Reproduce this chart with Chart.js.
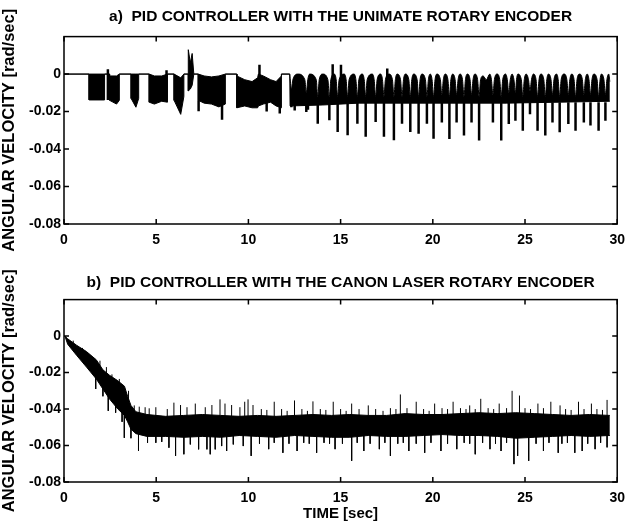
<!DOCTYPE html>
<html>
<head>
<meta charset="utf-8">
<script src="https://cdn.jsdelivr.net/npm/chart.js@4.4.0/dist/chart.umd.min.js"></script>
<style>
  html, body { margin: 0; padding: 0; background: #fff; }
  #wrap { position: relative; width: 633px; height: 524px; overflow: hidden; }
  canvas { position: absolute; left: 0; }
  #topChart { top: 0; }
  #bottomChart { top: 262px; }
</style>
</head>
<body>
<div id="wrap">
  <canvas id="topChart" width="633" height="262"></canvas>
  <canvas id="bottomChart" width="633" height="262"></canvas>
</div>
<script>
// axis ticks
const xTicks = [0, 5, 10, 15, 20, 25, 30];
const yTicks = [-0.08, -0.06, -0.04, -0.02, 0];

// a) Unimate encoder: chattering band up to ~12 s (time, upper edge, lower edge)
const topEarlyTime = [0, 1.36, 1.36, 2.2, 2.2, 2.47, 2.47, 2.85, 3.0, 3.0, 3.64, 3.64, 3.9, 4.05, 4.05, 4.62, 4.62, 4.9, 5.3, 5.61, 5.61, 5.97, 5.97, 6.33, 6.5, 6.5, 6.74, 6.74, 6.85, 6.95, 7.04, 7.28, 7.28, 7.6, 8.0, 8.4, 8.75, 8.75, 9.37, 9.37, 9.8, 10.2, 10.5, 10.54, 10.81, 11.2, 11.5, 11.79, 11.79, 12.24];
const topEarlyHigh = [0, 0, 0, 0, 0, 0, -0.001, -0.001, 0, 0, 0, 0, 0, 0, 0, 0, 0, -0.001, -0.001, 0, 0, 0, 0, -0.002, 0, 0, 0, 0.013, 0.006, 0.011, 0, 0, 0, -0.001, -0.0015, -0.001, 0, 0, 0, -0.001, -0.003, -0.004, -0.002, 0, -0.001, -0.003, -0.004, -0.001, 0, 0];
const topEarlyLow = [0, 0, -0.0138, -0.0138, 0, 0, -0.014, -0.016, -0.014, 0, 0, -0.013, -0.0177, -0.013, 0, 0, -0.015, -0.016, -0.0145, -0.015, 0, 0, -0.014, -0.0215, -0.012, 0, 0, -0.009, -0.008, -0.006, 0, 0, -0.014, -0.0155, -0.016, -0.0175, -0.016, 0, 0, -0.018, -0.017, -0.018, -0.018, -0.017, -0.016, -0.015, -0.017, -0.018, 0, 0];

// a) periodic part: rounded arch tops at 0, narrow notches between them
const topCycleTime = [
    12.24, 12.33, 12.41, 12.69, 13.06, 13.14, 13.22, 13.32, 13.68, 13.76, 13.84, 14.03,
    14.31, 14.39, 14.47, 14.66, 14.76, 14.84, 14.92, 15.2, 15.3, 15.38, 15.46, 15.73,
    15.83, 15.91, 15.99, 16.18, 16.28, 16.36, 16.44, 16.72, 16.82, 16.9, 16.98, 17.17,
    17.27, 17.35, 17.43, 17.62, 17.81, 17.89, 17.97, 18.06, 18.25, 18.33, 18.41, 18.51,
    18.7, 18.78, 18.86, 18.96, 19.15, 19.23, 19.31, 19.41, 19.6, 19.68, 19.76, 19.86,
    19.96, 20.04, 20.12, 20.22, 20.41, 20.49, 20.57, 20.67, 20.82, 20.9, 20.98, 21.08,
    21.21, 21.29, 21.37, 21.47, 21.61, 21.69, 21.77, 21.87, 22.02, 22.1, 22.18, 22.28,
    22.43, 22.51, 22.59, 22.73, 22.9, 23.09, 23.18, 23.26, 23.34, 23.48, 23.63, 23.71,
    23.79, 23.95, 24.04, 24.12, 24.2, 24.3, 24.4, 24.48, 24.54, 24.61, 24.8, 24.88,
    24.96, 25.06, 25.19, 25.27, 25.35, 25.45, 25.6, 25.68, 25.76, 25.86, 26.02, 26.1,
    26.18, 26.27, 26.41, 26.49, 26.57, 26.71, 26.8, 26.88, 26.96, 27.12, 27.27, 27.35,
    27.43, 27.53, 27.66, 27.74, 27.82, 27.96, 28.11, 28.19, 28.27, 28.37, 28.47, 28.55,
    28.63, 28.73, 28.91, 28.99, 29.07, 29.14, 29.28, 29.36, 29.44, 29.54, 29.6
];
const topCycleHigh = [
    0, -0.008, -0.003, 0, -0.003, -0.01, -0.003, 0, -0.003, -0.012, -0.003, 0,
    -0.003, -0.012, -0.003, 0, -0.003, -0.012, -0.003, 0, -0.003, -0.012, -0.003, 0,
    -0.003, -0.012, -0.003, 0, -0.003, -0.012, -0.003, 0, -0.003, -0.012, -0.003, 0,
    -0.003, -0.012, -0.003, 0, -0.003, -0.012, -0.003, 0, -0.003, -0.012, -0.003, 0,
    -0.003, -0.012, -0.003, 0, -0.003, -0.012, -0.003, 0, -0.003, -0.012, -0.003, 0,
    -0.003, -0.012, -0.003, 0, -0.003, -0.011, -0.003, 0, -0.003, -0.012, -0.003, 0,
    -0.003, -0.011, -0.003, 0, -0.003, -0.012, -0.003, 0, -0.003, -0.011, -0.003, 0,
    -0.003, -0.012, -0.003, -0.001, -0.003, 0, -0.003, -0.011, -0.003, 0, -0.003, -0.012,
    -0.003, 0, -0.003, -0.01, -0.003, 0, -0.003, -0.01, -0.003, 0, -0.003, -0.012,
    -0.003, 0, -0.003, -0.009, -0.003, 0, -0.003, -0.012, -0.003, 0, -0.003, -0.012,
    -0.003, 0, -0.003, -0.011, -0.003, 0, -0.003, -0.012, -0.003, 0, -0.003, -0.011,
    -0.003, 0, -0.003, -0.012, -0.003, 0, -0.003, -0.011, -0.003, 0, -0.003, -0.011,
    -0.003, 0, -0.003, -0.012, -0.003, 0, -0.003, -0.011, -0.003, 0, -0.004
];
const topCycleLowTime = [12.24, 12.26, 14.0, 16.0, 20.0, 24.0, 29.6];
const topCycleLow = [0, -0.017, -0.0165, -0.0155, -0.0155, -0.0155, -0.0145];

// a) narrow spikes (time, start, tip)
const topSpikeTime = [2.38, 5.56, 7.3, 8.57, 10.6, 10.99, 11.7, 12.33, 12.51, 13.14, 13.23, 13.76, 14.39, 14.57, 14.84, 15.02, 15.38, 15.91, 16.36, 16.9, 17.35, 17.53, 17.89, 18.33, 18.78, 19.23, 19.68, 20.04, 20.49, 20.9, 21.29, 21.69, 22.1, 22.51, 23.26, 23.71, 24.12, 24.48, 24.88, 25.27, 25.68, 26.1, 26.49, 26.88, 27.35, 27.74, 28.19, 28.55, 28.99, 29.36];
const topSpikeFrom = [-0.0138, -0.014, -0.014, -0.016, -0.006, -0.015, -0.016, -0.015, -0.015, -0.015, -0.015, -0.015, -0.015, -0.004, -0.015, -0.004, -0.015, -0.015, -0.015, -0.015, -0.015, -0.004, -0.015, -0.015, -0.015, -0.015, -0.015, -0.015, -0.015, -0.015, -0.015, -0.015, -0.015, -0.015, -0.015, -0.015, -0.015, -0.015, -0.015, -0.015, -0.015, -0.015, -0.015, -0.015, -0.015, -0.015, -0.015, -0.015, -0.015, -0.015];
const topSpikeTo = [0.0026, 0.002, -0.0198, -0.0244, 0.005, -0.02, -0.021, -0.0177, -0.0194, -0.0203, -0.019, -0.0265, -0.0247, 0.0053, -0.0309, 0.005, -0.0327, -0.0265, -0.0335, -0.0256, -0.0335, 0.003, -0.0353, -0.0265, -0.0309, -0.0318, -0.0265, -0.0345, -0.0258, -0.0346, -0.0258, -0.0328, -0.0258, -0.0354, -0.0258, -0.0355, -0.0267, -0.0249, -0.0302, -0.0214, -0.0302, -0.0328, -0.0258, -0.031, -0.0267, -0.0302, -0.0258, -0.0275, -0.0302, -0.0249];

// b) Canon laser encoder: noise band (time, upper edge, lower edge)
const botTime = [0.05, 0.2, 0.68, 1.22, 1.75, 2.11, 2.47, 2.92, 3.28, 3.45, 3.63, 3.9, 4.5, 5.5, 6.5, 7.5, 8.5, 9.5, 10.5, 11.5, 12.5, 13.5, 14.5, 15.5, 16.5, 17.5, 18.5, 19.5, 20.5, 21.5, 22.5, 23.5, 24.5, 25.5, 26.5, 27.5, 28.5, 29.6];
const botHigh = [0, -0.0015, -0.005, -0.0085, -0.013, -0.0185, -0.0215, -0.0245, -0.0275, -0.033, -0.038, -0.0415, -0.043, -0.044, -0.0435, -0.043, -0.0435, -0.044, -0.0435, -0.044, -0.0435, -0.043, -0.0435, -0.043, -0.0435, -0.0435, -0.0425, -0.043, -0.043, -0.0425, -0.042, -0.0425, -0.042, -0.0425, -0.043, -0.0435, -0.043, -0.0435];
const botLow = [0, -0.0045, -0.0105, -0.017, -0.0235, -0.029, -0.0345, -0.04, -0.0435, -0.047, -0.051, -0.0535, -0.055, -0.055, -0.0555, -0.055, -0.0555, -0.0545, -0.055, -0.0555, -0.0545, -0.055, -0.0555, -0.0555, -0.0545, -0.055, -0.055, -0.0545, -0.054, -0.0545, -0.0545, -0.055, -0.056, -0.0555, -0.055, -0.0545, -0.055, -0.0545];

// b) upward and downward noise spikes after the transient
const botUpBase = -0.045;
const botUpTime = [3.81, 4.08, 4.4, 4.62, 4.98, 5.6, 5.96, 6.32, 6.67, 7.12, 7.66, 8.02, 8.46, 8.73, 9.09, 9.54, 9.8, 9.98, 10.25, 10.7, 11.0, 11.4, 11.8, 12.1, 12.5, 12.9, 13.2, 13.5, 13.9, 14.2, 14.6, 15.0, 15.3, 15.6, 16.0, 16.5, 16.9, 17.3, 17.7, 18.0, 18.24, 18.6, 19.1, 19.5, 19.8, 20.1, 20.5, 20.8, 21.1, 21.5, 21.8, 22.0, 22.3, 22.6, 23.0, 23.3, 23.6, 24.0, 24.3, 24.7, 25.0, 25.3, 25.7, 26.0, 26.4, 26.9, 27.2, 27.5, 27.9, 28.2, 28.6, 28.9, 29.2, 29.45];
const botUpTo = [-0.038, -0.0387, -0.039, -0.0396, -0.039, -0.04, -0.0365, -0.0378, -0.039, -0.037, -0.039, -0.0378, -0.0347, -0.037, -0.0378, -0.039, -0.036, -0.0347, -0.0378, -0.04, -0.0405, -0.036, -0.04, -0.041, -0.0353, -0.04, -0.041, -0.0358, -0.04, -0.0405, -0.036, -0.04, -0.041, -0.037, -0.04, -0.038, -0.04, -0.041, -0.0395, -0.04, -0.032, -0.0395, -0.036, -0.04, -0.041, -0.037, -0.0395, -0.04, -0.036, -0.0395, -0.04, -0.038, -0.04, -0.0344, -0.0395, -0.04, -0.037, -0.0395, -0.03, -0.0326, -0.0395, -0.04, -0.037, -0.0395, -0.036, -0.038, -0.04, -0.0405, -0.036, -0.04, -0.037, -0.04, -0.0405, -0.035];
const botDownBase = -0.052;
const botDownTime = [4.04, 4.53, 4.98, 5.3, 5.69, 6.05, 6.5, 6.85, 7.3, 7.75, 7.93, 8.2, 8.55, 8.82, 9.18, 9.72, 10.15, 10.6, 11.1, 11.4, 11.87, 12.2, 12.64, 13.0, 13.3, 13.7, 14.1, 14.4, 14.7, 15.1, 15.6, 15.9, 16.26, 16.6, 17.1, 17.4, 17.7, 18.1, 18.4, 18.7, 19.1, 19.56, 19.9, 20.44, 20.8, 21.3, 21.7, 22.0, 22.3, 22.7, 23.1, 23.4, 23.7, 24.0, 24.4, 24.6, 25.2, 25.6, 26.0, 26.3, 26.8, 27.0, 27.3, 27.7, 28.1, 28.4, 28.8, 29.1, 29.45];
const botDownTo = [-0.063, -0.0585, -0.0585, -0.058, -0.0612, -0.0657, -0.0648, -0.0594, -0.0621, -0.0621, -0.0648, -0.0621, -0.0603, -0.063, -0.0594, -0.0603, -0.0657, -0.059, -0.062, -0.0585, -0.064, -0.059, -0.063, -0.0585, -0.059, -0.064, -0.0585, -0.059, -0.062, -0.059, -0.0684, -0.0585, -0.063, -0.059, -0.062, -0.0585, -0.0657, -0.059, -0.0585, -0.063, -0.059, -0.064, -0.0585, -0.063, -0.059, -0.062, -0.0585, -0.059, -0.0648, -0.0585, -0.062, -0.059, -0.063, -0.0585, -0.0702, -0.0657, -0.0684, -0.059, -0.063, -0.0585, -0.064, -0.059, -0.0585, -0.064, -0.063, -0.059, -0.062, -0.0585, -0.061];

// b) spikes inside the transient (time, start, tip)
const botTransTime = [0.5, 1.0, 1.4, 1.72, 1.95, 2.11, 2.3, 2.4, 2.6, 2.8, 3.0, 3.15, 3.27, 3.5, 3.63];
const botTransFrom = [-0.006, -0.01, -0.013, -0.02, -0.019, -0.025, -0.022, -0.03, -0.026, -0.033, -0.03, -0.036, -0.04, -0.042, -0.045];
const botTransTo = [-0.0025, -0.0065, -0.019, -0.029, -0.0135, -0.033, -0.017, -0.041, -0.021, -0.042, -0.0235, -0.047, -0.0558, -0.03, -0.056];

function points(xs, ys) {
    return xs.map((x, i) => ({ x: x, y: ys[i] }));
}

// vertical strokes, separated by gaps
function sticks(xs, from, to) {
    const out = [];
    xs.forEach((x, i) => {
        const start = Array.isArray(from) ? from[i] : from;
        out.push({ x: x, y: start }, { x: x, y: to[i] }, { x: x, y: null });
    });
    return out;
}

// box round the plot with matlab-style inward ticks
const framePlugin = {
    id: 'frame',
    afterDraw(chart) {
        const { ctx, chartArea: a, scales } = chart;
        ctx.save();
        ctx.strokeStyle = '#000';
        ctx.lineWidth = 1.5;
        ctx.strokeRect(a.left, a.top, a.right - a.left, a.bottom - a.top);
        ctx.beginPath();
        scales.x.ticks.forEach(t => {
            const px = scales.x.getPixelForValue(t.value);
            ctx.moveTo(px, a.bottom); ctx.lineTo(px, a.bottom - 5);
            ctx.moveTo(px, a.top); ctx.lineTo(px, a.top + 5);
        });
        scales.y.ticks.forEach(t => {
            const py = scales.y.getPixelForValue(t.value);
            ctx.moveTo(a.left, py); ctx.lineTo(a.left + 5, py);
            ctx.moveTo(a.right, py); ctx.lineTo(a.right - 5, py);
        });
        ctx.stroke();
        ctx.restore();
    }
};

Chart.defaults.font.family = '"Liberation Sans", Arial, sans-serif';
Chart.defaults.color = '#000';

function band(data, fill, extra) {
    return Object.assign({
        data: data,
        borderColor: '#000',
        backgroundColor: '#000',
        borderWidth: 1,
        pointRadius: 0,
        fill: fill
    }, extra || {});
}

function makeChart(id, title, titlePad, axisHeight, xTitle, datasets) {
    return new Chart(document.getElementById(id), {
        type: 'line',
        data: { datasets: datasets },
        plugins: [framePlugin],
        options: {
            responsive: false,
            animation: false,
            devicePixelRatio: 1,
            layout: { padding: { left: 0, right: 10, top: 0, bottom: 0 } },
            plugins: {
                legend: { display: false },
                tooltip: { enabled: false },
                title: {
                    display: true,
                    text: title,
                    fullSize: false,
                    color: '#000',
                    font: { size: 15.5, weight: 'bold' },
                    padding: titlePad
                }
            },
            scales: {
                x: {
                    type: 'linear',
                    min: 0,
                    max: 30,
                    afterBuildTicks: s => { s.ticks = xTicks.map(v => ({ value: v })); },
                    afterFit: s => { s.height = axisHeight; },
                    grid: { display: false, drawTicks: false },
                    border: { display: false },
                    ticks: { padding: 8, color: '#000', font: { size: 14, weight: 'bold' } },
                    title: {
                        display: !!xTitle,
                        text: xTitle,
                        color: '#000',
                        font: { size: 15, weight: 'bold' },
                        padding: { top: 0, bottom: 1 }
                    }
                },
                y: {
                    type: 'linear',
                    min: -0.08,
                    max: 0.02,
                    afterBuildTicks: s => { s.ticks = yTicks.map(v => ({ value: v })); },
                    afterFit: s => { s.width = 64; },
                    grid: { display: false, drawTicks: false },
                    border: { display: false },
                    ticks: {
                        padding: 3,
                        color: '#000',
                        font: { size: 14, weight: 'bold' },
                        callback: v => (v === 0 ? '0' : v.toFixed(2))
                    },
                    title: {
                        display: true,
                        text: 'ANGULAR VELOCITY [rad/sec]',
                        color: '#000',
                        font: { size: 16.5, weight: 'bold', lineHeight: 1.0 },
                        padding: { top: 1, bottom: 0 }
                    }
                }
            }
        }
    });
}

makeChart('topChart', 'a)  PID CONTROLLER WITH THE UNIMATE ROTARY ENCODER', { top: 7, bottom: 11 }, 38, '', [
    band(points(topEarlyTime, topEarlyHigh), '+1'),
    band(points(topEarlyTime, topEarlyLow), false),
    band(points(topCycleTime, topCycleHigh), '+1', { cubicInterpolationMode: 'monotone' }),
    band(points(topCycleLowTime, topCycleLow), false),
    band(sticks(topSpikeTime, topSpikeFrom, topSpikeTo), false, { borderWidth: 2.5, spanGaps: false })
]);

makeChart('bottomChart', 'b)  PID CONTROLLER WITH THE CANON LASER ROTARY ENCODER', { top: 11, bottom: 8 }, 42, 'TIME [sec]', [
    band(points(botTime, botHigh), '+1'),
    band(points(botTime, botLow), false),
    band(sticks(botUpTime, botUpBase, botUpTo), false, { spanGaps: false }),
    band(sticks(botDownTime, botDownBase, botDownTo), false, { spanGaps: false }),
    band(sticks(botTransTime, botTransFrom, botTransTo), false, { spanGaps: false })
]);
</script>
</body>
</html>
